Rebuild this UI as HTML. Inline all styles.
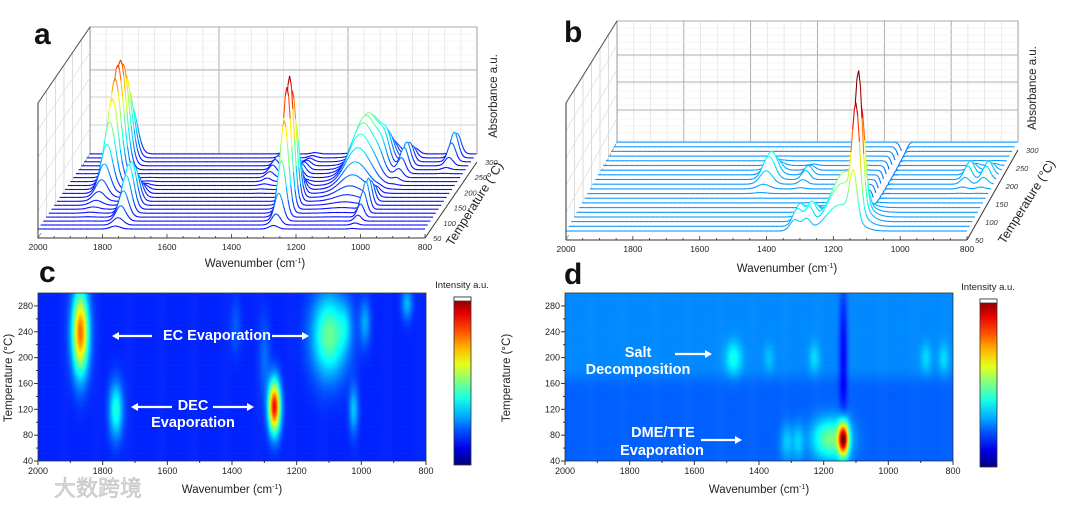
<!DOCTYPE html>
<html><head><meta charset="utf-8"><style>
html,body{margin:0;padding:0;background:#fff;}
#root{position:relative;width:1080px;height:506px;overflow:hidden;font-family:"Liberation Sans","Noto Sans CJK SC",sans-serif;}
canvas{position:absolute;}
svg{position:absolute;left:0;top:0;}
</style></head><body>
<div id="root">
<canvas id="hc" width="388" height="168" style="left:38px;top:293px"></canvas>
<canvas id="hd" width="388" height="168" style="left:565px;top:293px"></canvas>
<svg id="s" width="1080" height="506" xmlns="http://www.w3.org/2000/svg">
<defs><linearGradient id="jetg" x1="0" y1="1" x2="0" y2="0"></linearGradient></defs>
</svg>
</div>
<script>
// ---- data ----
const traceTemps = [50,63,76,89,102,115,128,141,154,167,180,193,206,219,232,245,258,271,284,297];
const wnTicks = [2000,1800,1600,1400,1200,1000,800];
const tempTicks3d = [50,100,150,200,250,300];
const heatTempTicks = [40,80,120,160,200,240,280];
// peaks panel a / c : wavenumber centre, width, temperature centre, temperature width, amplitude
const peakWnA = [1870,1100,1760,1270,1025,990,860,1390,1300,1050];
const peakWidthA = [18,38,15,13,10,12,12,12,12,14];
const peakTempA = [240,235,120,125,120,255,285,250,200,250];
const peakTempWidthA = [45,45,30,28,25,25,18,30,45,25];
const peakAmpA = [0.85,0.45,0.35,1.0,0.22,0.18,0.2,0.08,0.1,0.12];
// peaks panel b / d
const peakWnB = [1140,1180,1280,1315,1480,1230,885,830,1370,1140];
const peakWidthB = [11,40,12,14,18,12,12,12,12,9];
const peakTempB = [75,75,70,70,200,200,200,200,200,210];
const peakTempWidthB = [18,22,20,20,18,16,16,16,16,70];
const peakAmpB = [1.0,0.4,0.15,0.15,0.2,0.12,0.12,0.12,0.08,-0.2];

const NS = "http://www.w3.org/2000/svg";
const svg = document.getElementById('s');
function jet(v){v=Math.max(0,Math.min(1,v));const c=x=>Math.round(255*Math.max(0,Math.min(1,x)));
 return `rgb(${c(1.5-Math.abs(4*v-3))},${c(1.5-Math.abs(4*v-2))},${c(1.5-Math.abs(4*v-1))})`;}
function inten(W,Wd,Tc,Tw,A,wn,T){let s=0;for(let i=0;i<W.length;i++){const a=(wn-W[i])/Wd[i],b=(T-Tc[i])/Tw[i];s+=A[i]*Math.exp(-0.5*(a*a+b*b));}return s;}
function mk(tag,attrs,parent,name,text){const e=document.createElementNS(NS,tag);for(const k in attrs)e.setAttribute(k,attrs[k]);
 
 
 if(text!==undefined)e.textContent=text;(parent||svg).appendChild(e);return e;}

const g=document.getElementById('jetg');
for(let i=0;i<=10;i++){const st=document.createElementNS(NS,'stop');st.setAttribute('offset',i/10);st.setAttribute('stop-color',jet(i/10));g.appendChild(st);}

// ---- 3D panels ----
function panel3d(cfg){
 const {x0,x1,yF,dxB,dyB,topBack,topFront,H,base,W,Wd,Tc,Tw,A,majorStep,hLines,pfx}=cfg;
 const xF=wn=>x0+(2000-wn)/1200*(x1-x0);
 const fr=T=>(T-50)/250;
 const bx0=x0+dxB,bx1=x1+dxB,byB=yF-dyB-8;
 const gr=mk('g',{},svg,pfx+'-3d-plot');
 mk('rect',{x:bx0,y:topBack,width:bx1-bx0,height:byB-topBack,fill:'#fff',stroke:'#999','stroke-width':0.8},gr,pfx+'-back-wall');
 for(let wn=2000;wn>=800;wn-=50){const x=bx0+(2000-wn)/1200*(bx1-bx0);
  mk('line',{x1:x,y1:topBack,x2:x,y2:byB,stroke:(wn%majorStep===0)?'#999':'#e4e4e4','stroke-width':0.8},gr,pfx+'-back-gridline');}
 for(let k=0;k<hLines.length;k++){mk('line',{x1:bx0,y1:hLines[k],x2:bx1,y2:hLines[k],stroke:'#999','stroke-width':0.8},gr,pfx+'-back-hline');}
 for(let y=topBack+7;y<byB;y+=7){mk('line',{x1:bx0,y1:y,x2:bx1,y2:y,stroke:'#eee','stroke-width':0.6},gr,pfx+'-back-minor');}
 mk('polygon',{points:`${x0},${topFront} ${bx0},${topBack} ${bx0},${byB} ${x0},${yF}`,fill:'#fff',stroke:'#888','stroke-width':0.8},gr,pfx+'-left-wall');
 for(let i=1;i<6;i++){const t=i/6;const xa=x0+t*dxB;mk('line',{x1:xa,y1:topFront-(topFront-topBack)*t,x2:xa,y2:yF-(yF-byB)*t,stroke:'#ccc','stroke-width':0.7},gr,pfx+'-left-gridline');}
 for(let i=1;i<5;i++){const t=i/5;mk('line',{x1:x0,y1:topFront+(yF-topFront)*t,x2:bx0,y2:topBack+(byB-topBack)*t,stroke:'#ddd','stroke-width':0.7},gr,pfx+'-left-hline');}
 mk('line',{x1:x0,y1:topFront,x2:bx0,y2:topBack,stroke:'#555','stroke-width':1},gr,pfx+'-top-edge');
 for(let ti=traceTemps.length-1;ti>=0;ti--){
  const T=traceTemps[ti],f=fr(T),yb=yF-9-f*dyB,ox=f*dxB;
  const pts=[];for(let wn=2000;wn>=800;wn-=5){const z=inten(W,Wd,Tc,Tw,A,wn,T);pts.push([xF(wn)+ox,yb-z*H,z]);}
  const poly=pts.map(p=>p[0].toFixed(1)+','+p[1].toFixed(1)).join(' ')+` ${pts[pts.length-1][0]},${yb+4} ${pts[0][0]},${yb+4}`;
  mk('polygon',{points:poly,fill:'#fff',stroke:'none'},gr,pfx+'-trace-fill');
  for(let i=0;i<pts.length-1;i++){const z=(pts[i][2]+pts[i+1][2])/2;
   mk('line',{x1:pts[i][0].toFixed(1),y1:pts[i][1].toFixed(1),x2:pts[i+1][0].toFixed(1),y2:pts[i+1][1].toFixed(1),stroke:jet(base+z*(0.98-base)),'stroke-width':1.1},gr,pfx+'-trace-segment');}
 }
 mk('line',{x1:x0,y1:yF,x2:x1,y2:yF,stroke:'#333','stroke-width':1},gr,pfx+'-x-axis');
 mk('line',{x1:x0,y1:topFront,x2:x0,y2:yF,stroke:'#333','stroke-width':1},gr,pfx+'-z-axis');
 for(let wn=2000;wn>=800;wn-=50){const x=xF(wn);mk('line',{x1:x,y1:yF,x2:x,y2:yF-(wn%200===0?4:2),stroke:'#333','stroke-width':0.8},gr,pfx+'-x-tick');}
 wnTicks.forEach(wn=>mk('text',{x:xF(wn),y:yF+12,'font-size':8.5,'text-anchor':'middle',fill:'#222'},gr,pfx+'-x-tick-label',wn));
 mk('line',{x1:x1,y1:yF,x2:x1+dxB,y2:yF-dyB,stroke:'#333','stroke-width':1},gr,pfx+'-temp-axis');
 tempTicks3d.forEach(T=>{const f=fr(T);mk('text',{x:x1+f*dxB+8,y:yF-f*dyB+3,'font-size':7.5,'font-style':'italic',fill:'#333'},gr,pfx+'-temp-tick-label',T);});
}
panel3d({x0:38,x1:425,yF:238,dxB:52,dyB:76,topBack:27,topFront:103,H:130,base:0.12,W:peakWnA,Wd:peakWidthA,Tc:peakTempA,Tw:peakTempWidthA,A:peakAmpA,majorStep:400,hLines:[70,97,125],pfx:'panel-a'});
panel3d({x0:566,x1:967,yF:240,dxB:51,dyB:90,topBack:21,topFront:103,H:125,base:0.27,W:peakWnB,Wd:peakWidthB,Tc:peakTempB,Tw:peakTempWidthB,A:peakAmpB,majorStep:200,hLines:[55,82,110],pfx:'panel-b'});

// ---- heatmaps ----
function heat(id,W,Wd,Tc,Tw,A,base,scale,extra){
 const cv=document.getElementById(id),ctx=cv.getContext('2d');
 const xs=wn=>(2000-wn)/1200*388, ys=T=>168-(T-40)/260*168;
 for(let wn=2000;wn>800;wn-=3){for(let T=300;T>40;T-=2){
  let v=base+inten(W,Wd,Tc,Tw,A,wn,T)*scale+extra(wn,T);
  ctx.fillStyle=jet(v);ctx.fillRect(xs(wn),ys(T),xs(wn-3)-xs(wn)+0.6,ys(T-2)-ys(T)+0.6);}}
}
heat('hc',peakWnA,peakWidthA,peakTempA,peakTempWidthA,peakAmpA,0.16,0.72,(wn,T)=>0);
heat('hd',peakWnB,peakWidthB,peakTempB,peakTempWidthB,peakAmpB,0.22,0.68,(wn,T)=>0.04/(1+Math.exp(-(T-170)/6)));

function heatAxes(x0,cbx,cby,pfx,yTitleX){
 const xs=wn=>x0+(2000-wn)/1200*388, ys=T=>461-(T-40)/260*168;
 const gr=mk('g',{},svg,pfx+'-axes');
 mk('rect',{x:x0,y:293,width:388,height:168,fill:'none',stroke:'#333','stroke-width':0.8},gr,pfx+'-frame');
 for(let wn=2000;wn>=800;wn-=100){mk('line',{x1:xs(wn),y1:461,x2:xs(wn),y2:461+(wn%200===0?4:2),stroke:'#333'},gr,pfx+'-x-tick');}
 wnTicks.forEach(wn=>mk('text',{x:xs(wn),y:474,'font-size':9,'text-anchor':'middle',fill:'#222'},gr,pfx+'-x-tick-label',wn));
 for(let T=40;T<=290;T+=20){mk('line',{x1:x0,y1:ys(T),x2:x0-(T%40===0?4:2),y2:ys(T),stroke:'#333'},gr,pfx+'-y-tick');}
 heatTempTicks.forEach(T=>mk('text',{x:x0-5,y:ys(T)+3,'font-size':9,'text-anchor':'end',fill:'#222'},gr,pfx+'-y-tick-label',T));
 mk('text',{x:x0+194,y:493,'font-size':11.5,'text-anchor':'middle',fill:'#222'},gr,pfx+'-x-title').innerHTML='Wavenumber (cm<tspan dy="-4" font-size="7">-1</tspan><tspan dy="4">)</tspan>';
 mk('text',{transform:`translate(${yTitleX},378) rotate(-90)`,'font-size':11.5,'text-anchor':'middle',fill:'#222'},gr,pfx+'-y-title','Temperature (°C)');
 mk('rect',{x:cbx,y:cby,width:17,height:168,fill:'url(#jetg)',stroke:'#333','stroke-width':0.8},gr,pfx+'-colorbar');
 mk('rect',{x:cbx,y:cby,width:17,height:4,fill:'#fff',stroke:'#333','stroke-width':0.8},gr,pfx+'-colorbar-top');
 mk('text',{x:cbx+8,y:cby-9,'font-size':9.5,'text-anchor':'middle',fill:'#222'},gr,pfx+'-colorbar-title','Intensity a.u.');
}
heatAxes(38,454,297,'panel-c',12);
heatAxes(565,980,299,'panel-d',510);

// ---- text labels ----
function txt(x,y,s,attrs,name){const a=Object.assign({x:x,y:y},attrs);mk('text',a,svg,name,s);}
const ann={'font-size':14.5,'font-weight':'bold',fill:'#fff','text-anchor':'middle'};
function arrow(xa,xb,y,name){const d=xb>xa?1:-1;mk('line',{x1:xa,y1:y,x2:xb-d*5,y2:y,stroke:'#fff','stroke-width':2.2},svg,name);
 mk('polygon',{points:`${xb},${y} ${xb-d*7},${y-4} ${xb-d*7},${y+4}`,fill:'#fff'},svg,name+'-head');}
txt(217,340,'EC Evaporation',ann,'ec-evaporation-label');
arrow(152,112,336,'ec-arrow-left');arrow(272,309,336,'ec-arrow-right');
txt(193,410,'DEC',ann,'dec-label');txt(193,427,'Evaporation',ann,'dec-evaporation-label');
arrow(172,131,407,'dec-arrow-left');arrow(213,254,407,'dec-arrow-right');
txt(638,357,'Salt',ann,'salt-label');txt(638,374,'Decomposition',ann,'decomposition-label');
arrow(675,712,354,'salt-arrow');
txt(663,437,'DME/TTE',ann,'dme-tte-label');txt(662,455,'Evaporation',ann,'dme-evaporation-label');
arrow(701,742,440,'dme-arrow');
const pl={'font-size':30,'font-weight':'bold',fill:'#111'};
txt(34,44,'a',pl,'panel-label-a');txt(564,42,'b',pl,'panel-label-b');
txt(39,282,'c',pl,'panel-label-c');txt(564,284,'d',pl,'panel-label-d');
const t3={'font-size':11.5,fill:'#222','text-anchor':'middle'};
mk('text',{x:255,y:267,'font-size':11.5,'text-anchor':'middle',fill:'#222'},svg,'panel-a-x-title').innerHTML='Wavenumber (cm<tspan dy="-4" font-size="7">-1</tspan><tspan dy="4">)</tspan>';
mk('text',{x:787,y:272,'font-size':11.5,'text-anchor':'middle',fill:'#222'},svg,'panel-b-x-title').innerHTML='Wavenumber (cm<tspan dy="-4" font-size="7">-1</tspan><tspan dy="4">)</tspan>';
mk('text',Object.assign({transform:'translate(497,96) rotate(-90)'},t3),svg,'panel-a-absorbance-title','Absorbance a.u.');
mk('text',Object.assign({transform:'translate(1036,88) rotate(-90)'},t3),svg,'panel-b-absorbance-title','Absorbance a.u.');
mk('text',Object.assign({transform:'translate(478,206) rotate(-58)','font-size':12.5},{fill:'#222','text-anchor':'middle'}),svg,'panel-a-temp-title','Temperature (°C)');
mk('text',Object.assign({transform:'translate(1030,204) rotate(-58)','font-size':12.5},{fill:'#222','text-anchor':'middle'}),svg,'panel-b-temp-title','Temperature (°C)');
txt(98,496,'大数跨境',{'font-size':22,fill:'#d8d8d8','text-anchor':'middle',stroke:'#bbb','stroke-width':0.5},'watermark');
</script>
</body></html>
